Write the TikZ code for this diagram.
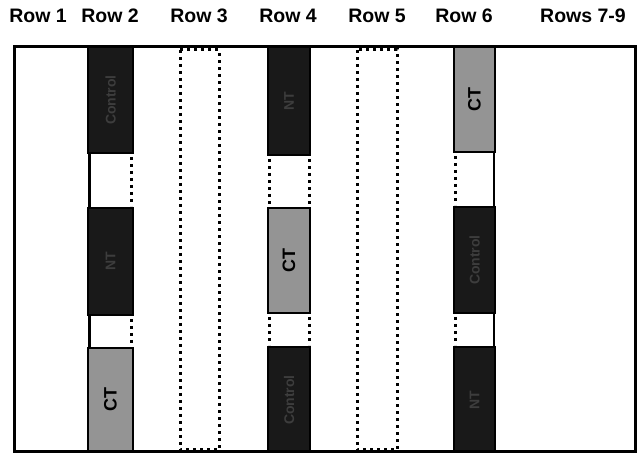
\documentclass[tikz,border=0pt]{standalone}
\usepackage{fontspec}
\setmainfont{Liberation Sans}
\begin{document}
\begin{tikzpicture}[x=1pt,y=-1pt,
  hdr/.style={font=\fontsize{19.5}{19.5}\selectfont\bfseries, anchor=base},
  ctbox/.style={draw=black, line width=2.5pt, fill=black!42, inner sep=0pt},
  darkbox/.style={draw=black, line width=2.5pt, fill=black!90, inner sep=0pt},
  cttext/.style={font=\fontsize{18}{18}\selectfont\bfseries, rotate=90, text=black},
  darktext/.style={font=\fontsize{14}{14}\selectfont\bfseries, rotate=90, text=black!76},
  dotline/.style={line width=3pt, dash pattern=on 3pt off 4pt},
  solidline/.style={line width=2.8pt}]
\useasboundingbox (0,0) rectangle (638,454);
% headers
\node[hdr] (h1) at (38,23) {Row 1};
\node[hdr] (h2) at (110,23) {Row 2};
\node[hdr] (h3) at (199,23) {Row 3};
\node[hdr] (h4) at (288,23) {Row 4};
\node[hdr] (h5) at (377,23) {Row 5};
\node[hdr] (h6) at (464,23) {Row 6};
\node[hdr] (h7) at (583,23) {Rows 7-9};
% row 3 and row 5 dotted strips
\draw[dotline] (180,50) rectangle (219,450);
\draw[dotline] (357,50) rectangle (397,450);
% row 2
\draw[darkbox] (88,47) rectangle (133,153);
\node[darktext] (r2a) at (110.5,100) {Control};
\draw[darkbox] (88,208) rectangle (133,315);
\node[darktext] (r2b) at (110.5,261) {NT};
\draw[ctbox] (88,348) rectangle (133,452);
\node[cttext] (r2c) at (110.5,400) {CT};
\draw[solidline] (89.5,153) -- (89.5,208);
\draw[dotline] (131.5,157) -- (131.5,206);
\draw[solidline] (89.5,315) -- (89.5,348);
\draw[dotline] (131.5,319) -- (131.5,346);
% row 4
\draw[darkbox] (268,47) rectangle (310,155);
\node[darktext] (r4a) at (289,101) {NT};
\draw[ctbox] (268,208) rectangle (310,313);
\node[cttext] (r4b) at (289,260.5) {CT};
\draw[darkbox] (268,347) rectangle (310,452);
\node[darktext] (r4c) at (289,400) {Control};
\draw[dotline] (269,159) -- (269,206);
\draw[dotline] (309,159) -- (309,206);
\draw[dotline] (269,317) -- (269,345);
\draw[dotline] (309,317) -- (309,345);
% row 6
\draw[ctbox] (454,47) rectangle (495,152);
\node[cttext] (r6a) at (474.5,99.5) {CT};
\draw[darkbox] (454,207) rectangle (495,313);
\node[darktext] (r6b) at (474.5,260) {Control};
\draw[darkbox] (454,347) rectangle (495,452);
\node[darktext] (r6c) at (474.5,400) {NT};
\draw[dotline] (455,156) -- (455,205);
\draw[solidline] (494,152) -- (494,207);
\draw[dotline] (455,317) -- (455,345);
\draw[solidline] (494,313) -- (494,347);
% frame
\draw[line width=3pt] (14,47) rectangle (635,452);
\end{tikzpicture}
\end{document}
